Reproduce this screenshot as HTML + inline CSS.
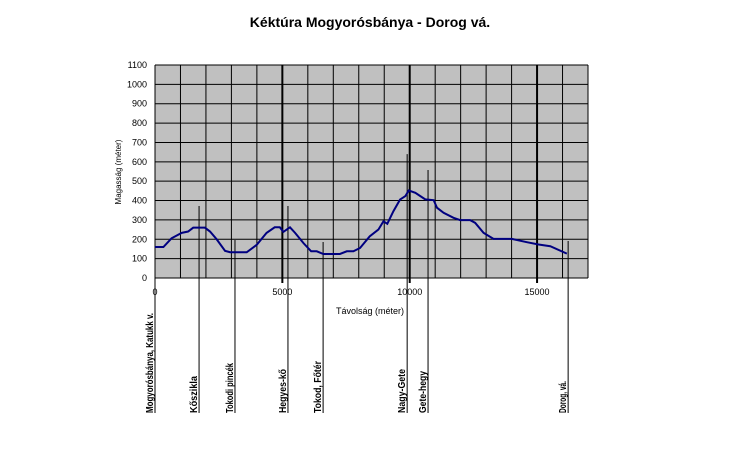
<!DOCTYPE html>
<html><head><meta charset="utf-8"><style>
body{margin:0;background:#fff;}
svg{display:block;font-family:"Liberation Sans",sans-serif;}
</style></head><body>
<svg id="chart" width="740" height="461" viewBox="0 0 740 461">
<text x="370" y="27" text-anchor="middle" font-size="14" font-weight="bold">Kéktúra Mogyorósbánya - Dorog vá.</text>
<rect x="155" y="65" width="433" height="213" fill="#c0c0c0"/>
<g id="grid"></g>
<g id="yticks" font-size="9" text-anchor="end"></g>
<g id="xticks" font-size="9" text-anchor="middle"></g>
<text transform="translate(121,172) rotate(-90)" text-anchor="middle" font-size="8">Magasság (méter)</text>
<text x="370" y="314" text-anchor="middle" font-size="9">Távolság (méter)</text>
<g id="markers"></g>
<g id="series"></g>
</svg>
<script>
const distances=[0,330,650,1050,1300,1500,1960,2160,2420,2750,2950,3600,4000,4380,4700,4900,5040,5170,5300,5500,5830,6130,6350,6610,7260,7530,7790,8050,8430,8770,8970,9120,9360,9620,9830,9960,10220,10610,10940,11070,11330,11720,11980,12370,12570,12900,13290,14010,14600,15060,15520,16170];
const elevations=[160,160,205,233,240,260,260,240,200,140,133,133,172,233,262,262,238,250,262,233,180,138,138,124,124,138,138,155,215,250,293,280,345,405,423,452,440,406,402,363,337,311,299,299,285,233,202,202,185,173,164,126];
const yTicks=[0,100,200,300,400,500,600,700,800,900,1000,1100];
const xTicks=[0,5000,10000,15000];
const markerNames=["Mogyorósbánya, Katukk v.","Kőszikla","Tokodi pincék","Hegyes-kő","Tokod, Főtér","Nagy-Gete","Gete-hegy","Dorog, vá."];
const markerDist=[0,1730,3140,5220,6600,9900,10720,16220];
const markerTop=[0,372,196,372,186,640,558,191];
const markerLen=[100,37,50,44,52,44,42,32];
const NS="http://www.w3.org/2000/svg";
const X=v=>155+v/17000*433;
const Y=v=>278-v/1100*213;
function mk(tag,attrs,parent){const e=document.createElementNS(NS,tag);for(const k in attrs)e.setAttribute(k,attrs[k]);parent.appendChild(e);return e;}
const grid=document.getElementById('grid');
for(let v=0;v<=17000;v+=1000){
 const thick=(v%5000===0&&v>0&&v<17000);
 const l=mk('line',{x1:X(v),x2:X(v),y1:65,y2:thick?283:278,stroke:'#000','stroke-width':thick?2:1},grid);
 
 
}
for(let v=0;v<=1100;v+=100){
 const l=mk('line',{x1:155,x2:588,y1:Y(v),y2:Y(v),stroke:'#000','stroke-width':1},grid);
 
 
}
const yt=document.getElementById('yticks');
yTicks.forEach(v=>{const t=mk('text',{x:147,y:Y(v)+3},yt);t.textContent=v;
 
 });
const xt=document.getElementById('xticks');
xTicks.forEach(v=>{const t=mk('text',{x:X(v),y:295},xt);t.textContent=v;
 
 });
const mg=document.getElementById('markers');
markerDist.forEach((d,i)=>{
 const x=X(d);
 const l=mk('line',{x1:x,x2:x,y1:Y(markerTop[i]),y2:413,stroke:'#000','stroke-width':1},mg);
 
 
 const tx=x-2;
 const t=mk('text',{transform:`translate(${tx},413) rotate(-90)`,'font-size':10,'font-weight':'bold',textLength:markerLen[i],lengthAdjust:'spacingAndGlyphs'},mg);
 t.textContent=markerNames[i];
 
 
});
const sg=document.getElementById('series');
const p=mk('polyline',{points:distances.map((d,i)=>X(d)+','+Y(elevations[i])).join(' '),fill:'none',stroke:'#000080','stroke-width':2},sg);


</script>
</body></html>
